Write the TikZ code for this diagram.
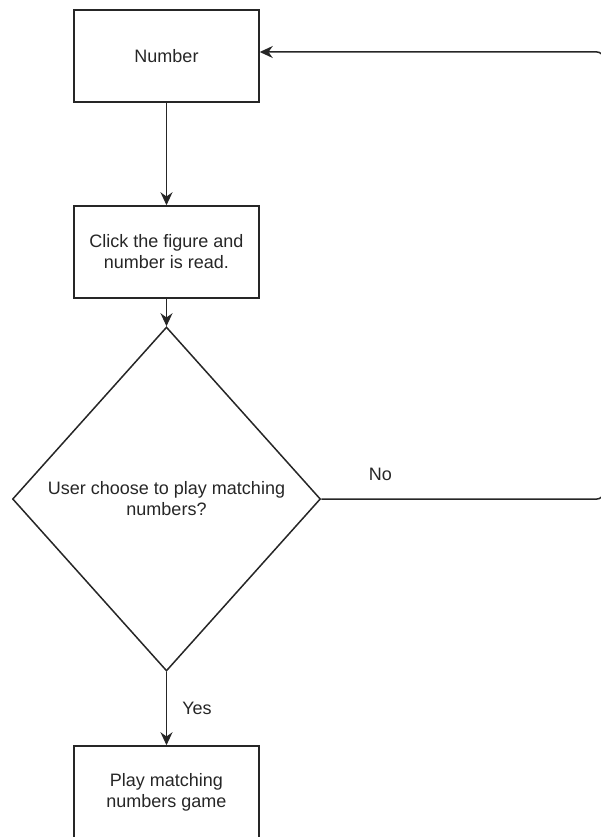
\documentclass[tikz,border=0pt]{standalone}
\usepackage{fontspec}
\setmainfont{Liberation Sans}
\usepackage{tikz}
\usetikzlibrary{arrows.meta, shapes.geometric}

\begin{document}
\begin{tikzpicture}[x=1pt, y=-1pt,
    every node/.style={text=black!85, font=\fontsize{18}{21}\selectfont},
    stepbox/.style={draw=black!85, line width=1.5pt, rectangle, minimum width=185pt, minimum height=92pt, align=center, inner sep=0pt},
    choicebox/.style={draw=black!85, line width=1.5pt, diamond, minimum width=308pt, minimum height=344pt, align=center, inner sep=0pt},
    flow/.style={draw=black!85, line width=1.5pt, -{Stealth[length=13pt, width=12pt]}},
    lbl/.style={inner sep=0pt}]
  \useasboundingbox (0,0) rectangle (600,837);
  \node[stepbox] (number) at (166.5,56) {Number};
  \node[stepbox] (click) at (166.5,252) {Click the figure and\\number is read.};
  \node[choicebox] (choice) at (166.5,499) {User choose to play matching\\numbers?};
  \node[stepbox, minimum height=93pt] (game) at (166.5,792.5) {Play matching\\numbers game};
  \coordinate (loop) at (603,52);
  \draw[flow] (number) -- (click);
  \draw[flow] (click) -- (choice);
  \draw[flow] (choice) -- node[lbl, right=15pt]{Yes} (game);
  \draw[flow, rounded corners=6pt] (choice.east) -- node[lbl, pos=0.21, above=18pt]{No} (choice.east -| loop) -- (loop) -- ([yshift=4pt]number.east);
\end{tikzpicture}
\end{document}
